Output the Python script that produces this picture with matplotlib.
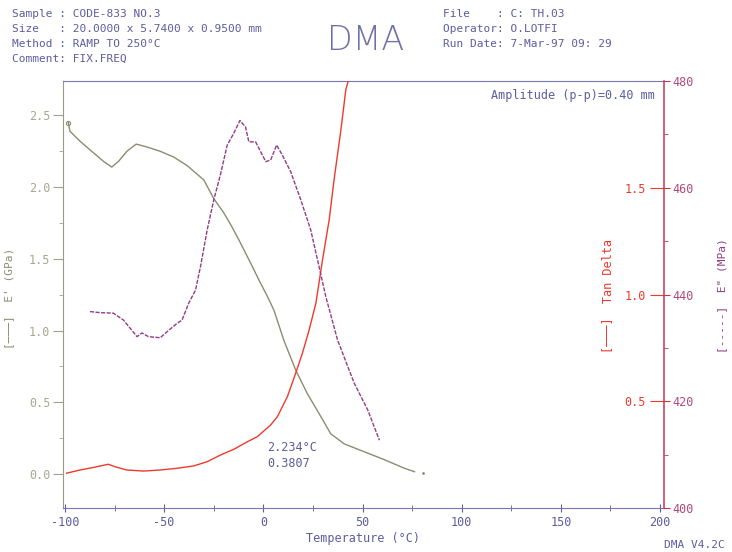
import matplotlib
matplotlib.use('Agg')
import matplotlib.pyplot as plt
from matplotlib.ticker import MultipleLocator, FixedLocator, FormatStrFormatter

# storage modulus E' (GPa), left axis
temp_e1 = [-98.3, -97.5, -92.4, -85.7, -80.6, -76.4, -73.0, -68.8, -64.1, -58.7, -52.0,
           -45.2, -38.4, -34.2, -30.0, -25.0, -19.9, -15.7, -11.5, -6.4, -1.4, 2.0, 5.4,
           10.4, 16.3, 22.2, 29.0, 34.0, 40.8, 50.9, 61.0, 71.1, 76.2]
e1 = [2.45, 2.39, 2.32, 2.24, 2.18, 2.14, 2.18, 2.25, 2.30, 2.28, 2.25,
      2.21, 2.15, 2.10, 2.05, 1.92, 1.82, 1.72, 1.61, 1.47, 1.33, 1.24, 1.14,
      0.93, 0.725, 0.56, 0.40, 0.28, 0.21, 0.155, 0.10, 0.04, 0.016]

# loss modulus E'' (MPa), right axis
temp_e2 = [-87.4, -82.3, -75.6, -70.5, -66.3, -63.7, -61.2, -57.9, -52.0, -48.6, -43.5,
           -41.0, -37.6, -34.2, -31.7, -28.3, -25.0, -21.6, -18.2, -14.9, -11.8, -9.0,
           -7.3, -3.9, 1.2, 3.7, 6.7, 9.6, 13.8, 18.9, 23.9, 28.1, 31.5, 37.4, 45.8,
           52.6, 58.5]
e2 = [436.8, 436.6, 436.5, 435.2, 433.3, 432.1, 432.8, 432.1, 431.9, 433.0, 434.6,
      435.2, 438.4, 440.8, 445.2, 452.1, 457.7, 462.5, 468.0, 470.2, 472.6, 471.4,
      468.6, 468.6, 464.9, 465.2, 468.0, 466.1, 463.0, 457.7, 452.1, 445.2, 439.6,
      431.5, 423.4, 418.4, 412.7]

# tan delta, right axis (inner labels)
temp_tan = [-99.2, -92.4, -85.7, -78.1, -74.7, -68.8, -60.4, -52.0, -43.5, -35.1, -28.3,
            -21.6, -14.9, -8.1, -3.0, 3.7, 7.1, 12.1, 16.3, 19.7, 23.1, 26.5, 29.8,
            33.2, 35.7, 39.1, 41.6, 42.8]
tan_d = [0.163, 0.178, 0.19, 0.205, 0.193, 0.178, 0.173, 0.178, 0.186, 0.197, 0.217,
         0.248, 0.275, 0.31, 0.334, 0.389, 0.428, 0.521, 0.631, 0.725, 0.834, 0.959,
         1.16, 1.35, 1.54, 1.77, 1.96, 2.0]

x_ticks = [-100, -50, 0, 50, 100, 150, 200]
e1_ticks = [0.0, 0.5, 1.0, 1.5, 2.0, 2.5]
tan_ticks = [0.5, 1.0, 1.5]
e2_ticks = [400, 420, 440, 460, 480]

header_left = ["Sample : CODE-833 NO.3",
               "Size   : 20.0000 x 5.7400 x 0.9500 mm",
               "Method : RAMP TO 250\u00b0C",
               "Comment: FIX.FREQ"]
header_right = ["File    : C: TH.03",
                "Operator: O.LOTFI",
                "Run Date: 7-Mar-97 09: 29"]

c_e1 = '#8c8c70'
c_e2 = '#933c86'
c_tan = '#ee3a2c'
c_txt = '#5c5ca0'
mono = 'DejaVu Sans Mono'
fs = 8

W, H = 732, 552
plt.rcParams['font.family'] = mono
plt.rcParams['axes.unicode_minus'] = False
fig = plt.figure(figsize=(W / 100, H / 100), dpi=100)

ax = fig.add_axes([63 / W, 1 - 508 / H, (664 - 63) / W, (508 - 81) / H])
ax.set_xlim(-101, 202)
ax.set_ylim(-0.237, 2.74)
ax.plot(temp_e1, e1, color=c_e1, lw=1.0)
ax.plot([temp_e1[0]], [e1[0]], 'o', ms=3, mfc='none', mec=c_e1, mew=0.8)
ax.plot([80.4], [0.005], '.', ms=2, color=c_e1)

ax.xaxis.set_major_locator(FixedLocator(x_ticks))
ax.xaxis.set_minor_locator(MultipleLocator(25))
ax.yaxis.set_major_locator(FixedLocator(e1_ticks))
ax.yaxis.set_minor_locator(MultipleLocator(0.25))
ax.yaxis.set_major_formatter(FormatStrFormatter('%.1f'))
ax.tick_params(axis='x', which='major', direction='inout', length=6, color=c_txt,
               labelcolor=c_txt, labelsize=fs + 0.5, pad=3)
ax.tick_params(axis='x', which='minor', direction='inout', length=4, color=c_txt)
ax.tick_params(axis='y', which='major', direction='out', length=7, color='#a0a090',
               labelcolor='#a8a890', labelsize=fs + 0.5, pad=2)
ax.tick_params(axis='y', which='minor', direction='out', length=3, color='#a0a090')
ax.spines['left'].set_color('#9a9a88')
ax.spines['top'].set_color('#7878b0')
ax.spines['bottom'].set_color('#7878b0')
ax.spines['right'].set_visible(False)
ax.set_xlabel('Temperature (\u00b0C)', color=c_txt, fontsize=fs + 0.5, labelpad=2)

# tan delta axis, labels inside the right spine
ax2 = ax.twinx()
ax2.set_ylim(0, 2.0)
ax2.plot(temp_tan, tan_d, color=c_tan, lw=1.0)
ax2.yaxis.set_major_locator(FixedLocator(tan_ticks))
ax2.yaxis.set_major_formatter(FormatStrFormatter('%.1f'))
ax2.tick_params(axis='y', which='major', direction='in', length=10, color=c_tan,
                labelcolor=c_tan, labelsize=fs + 0.5, pad=-13)
for lb in ax2.get_yticklabels():
    lb.set_horizontalalignment('right')
for s in ['left', 'top', 'bottom']:
    ax2.spines[s].set_visible(False)
ax2.spines['right'].set_color('#c8344e')
ax2.spines['right'].set_linewidth(1.1)

# E'' axis, labels outside the right spine
ax3 = ax.twinx()
ax3.set_ylim(400, 480)
ax3.plot(temp_e2, e2, color=c_e2, lw=1.0, ls=(0, (3, 1)))
ax3.yaxis.set_major_locator(FixedLocator(e2_ticks))
ax3.yaxis.set_minor_locator(MultipleLocator(10))
ax3.tick_params(axis='y', which='major', direction='out', length=4, color='#c8344e',
                labelcolor='#b04a7a', labelsize=fs + 0.5, pad=2)
ax3.tick_params(axis='y', which='minor', direction='out', length=3, color='#c8344e')
for s in ['left', 'top', 'bottom', 'right']:
    ax3.spines[s].set_visible(False)

# axis titles
fig.text(9 / W, 1 - 298 / H, "[\u2500\u2500\u2500]  E' (GPa)", rotation=90, color=c_e1,
         fontsize=fs, ha='center', va='center')
fig.text(608 / W, 1 - 296 / H, "[\u2500\u2500\u2500]  Tan Delta", rotation=90, color=c_tan,
         fontsize=fs + 0.5, ha='center', va='center')
fig.text(722 / W, 1 - 296 / H, "[-----]  E\" (MPa)", rotation=90, color=c_e2,
         fontsize=fs, ha='center', va='center')

# header
for i, line in enumerate(header_left):
    fig.text(12 / W, 1 - (14 + 15 * i) / H, line, color=c_txt, fontsize=fs,
             ha='left', va='center')
for i, line in enumerate(header_right):
    fig.text(443 / W, 1 - (14 + 15 * i) / H, line, color=c_txt, fontsize=fs,
             ha='left', va='center')
fig.text(366 / W, 1 - 40 / H, 'DMA', color='#7070a8', fontsize=24, ha='center',
         va='center', family='DejaVu Sans', fontweight='light')

ax.text(0.985, 0.965, 'Amplitude (p-p)=0.40 mm', transform=ax.transAxes, color=c_txt,
        fontsize=fs + 0.5, ha='right', va='center')
ax.text(2.0, 0.13, '2.234\u00b0C\n0.3807', color=c_txt, fontsize=fs + 0.5,
        ha='left', va='center', linespacing=1.3)
fig.text(694 / W, 1 - 545 / H, 'DMA V4.2C', color=c_txt, fontsize=fs,
         ha='center', va='center')

fig.savefig('out.png', dpi=100)
